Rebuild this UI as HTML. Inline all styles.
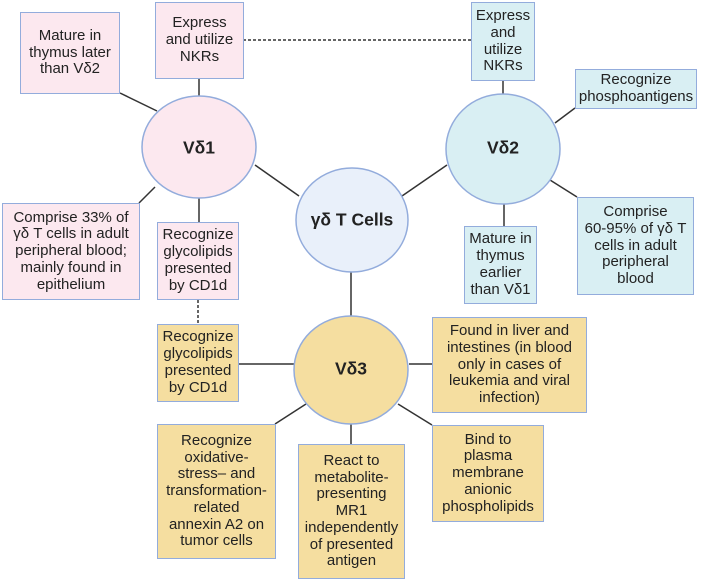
<!DOCTYPE html>
<html><head><meta charset="utf-8"><style>
body{margin:0;width:709px;height:581px;background:#fff;position:relative;overflow:hidden;font-family:"Liberation Sans",sans-serif;color:#222}
.b{position:absolute;box-sizing:border-box;border:1.5px solid #93acdc;display:flex;align-items:center;justify-content:center;text-align:center;font-size:15px;line-height:16.8px;white-space:nowrap}
.p{background:#fce8ef}.c{background:#d9eff3}.y{background:#f5dea0}
.t{position:absolute;font-weight:bold;font-size:17.5px;text-align:center;transform:translate(-50%,-50%);white-space:nowrap}
svg{position:absolute;left:0;top:0}
</style></head><body>
<svg width="709" height="581">
<g stroke="#333" stroke-width="1.5">
<line x1="120" y1="93" x2="157" y2="111"/><line x1="199" y1="78" x2="199" y2="96"/>
<line x1="255" y1="165" x2="299" y2="196"/><line x1="139" y1="203" x2="155" y2="187"/>
<line x1="199" y1="196" x2="199" y2="222"/>
<line x1="503" y1="80" x2="503" y2="94"/><line x1="575" y1="108" x2="555" y2="123"/>
<line x1="447" y1="165" x2="402" y2="196"/><line x1="504" y1="202" x2="504" y2="226"/>
<line x1="550" y1="180" x2="577" y2="197"/>
<line x1="351" y1="272" x2="351" y2="316"/><line x1="238" y1="364" x2="294" y2="364"/>
<line x1="409" y1="364" x2="432" y2="364"/><line x1="306" y1="404" x2="275" y2="424"/>
<line x1="351" y1="424" x2="351" y2="444"/><line x1="398" y1="404" x2="432" y2="425"/>
</g>
<g stroke="#333" stroke-width="1.5" stroke-dasharray="3,2">
<line x1="243" y1="40" x2="471" y2="40"/><line x1="198" y1="300" x2="198" y2="324"/>
</g>
<g stroke="#93acdc" stroke-width="1.5">
<ellipse cx="199" cy="147" rx="57" ry="51" fill="#fce8ef"/>
<ellipse cx="503" cy="149" rx="57" ry="55" fill="#d9eff3"/>
<ellipse cx="352" cy="220" rx="56" ry="52" fill="#e9f0fa"/>
<ellipse cx="351" cy="370" rx="57" ry="54" fill="#f5dea0"/>
</g>
</svg>
<div class="t" style="left:199px;top:148px">Vδ1</div>
<div class="t" style="left:503px;top:148px">Vδ2</div>
<div class="t" style="left:352px;top:220px">γδ T Cells</div>
<div class="t" style="left:351px;top:369px">Vδ3</div>
<div class="b p" style="left:20px;top:12px;width:100px;height:82px">Mature in<br>thymus later<br>than Vδ2</div>
<div class="b p" style="left:155px;top:2px;width:89px;height:77px">Express<br>and utilize<br>NKRs</div>
<div class="b p" style="left:2px;top:203px;width:138px;height:97px">Comprise 33% of<br>γδ T cells in adult<br>peripheral blood;<br>mainly found in<br>epithelium</div>
<div class="b p" style="left:157px;top:222px;width:82px;height:78px">Recognize<br>glycolipids<br>presented<br>by CD1d</div>
<div class="b c" style="left:471px;top:2px;width:64px;height:79px">Express<br>and<br>utilize<br>NKRs</div>
<div class="b c" style="left:575px;top:69px;width:122px;height:40px">Recognize<br>phosphoantigens</div>
<div class="b c" style="left:577px;top:197px;width:117px;height:98px">Comprise<br>60-95% of γδ T<br>cells in adult<br>peripheral<br>blood</div>
<div class="b c" style="left:464px;top:226px;width:73px;height:78px">Mature in<br>thymus<br>earlier<br>than Vδ1</div>
<div class="b y" style="left:157px;top:324px;width:82px;height:78px">Recognize<br>glycolipids<br>presented<br>by CD1d</div>
<div class="b y" style="left:432px;top:317px;width:155px;height:96px">Found in liver and<br>intestines (in blood<br>only in cases of<br>leukemia and viral<br>infection)</div>
<div class="b y" style="left:432px;top:425px;width:112px;height:97px">Bind to<br>plasma<br>membrane<br>anionic<br>phospholipids</div>
<div class="b y" style="left:298px;top:444px;width:107px;height:135px">React to<br>metabolite-<br>presenting<br>MR1<br>independently<br>of presented<br>antigen</div>
<div class="b y" style="left:157px;top:424px;width:119px;height:135px">Recognize<br>oxidative-<br>stress– and<br>transformation-<br>related<br>annexin A2 on<br>tumor cells</div>
</body></html>
